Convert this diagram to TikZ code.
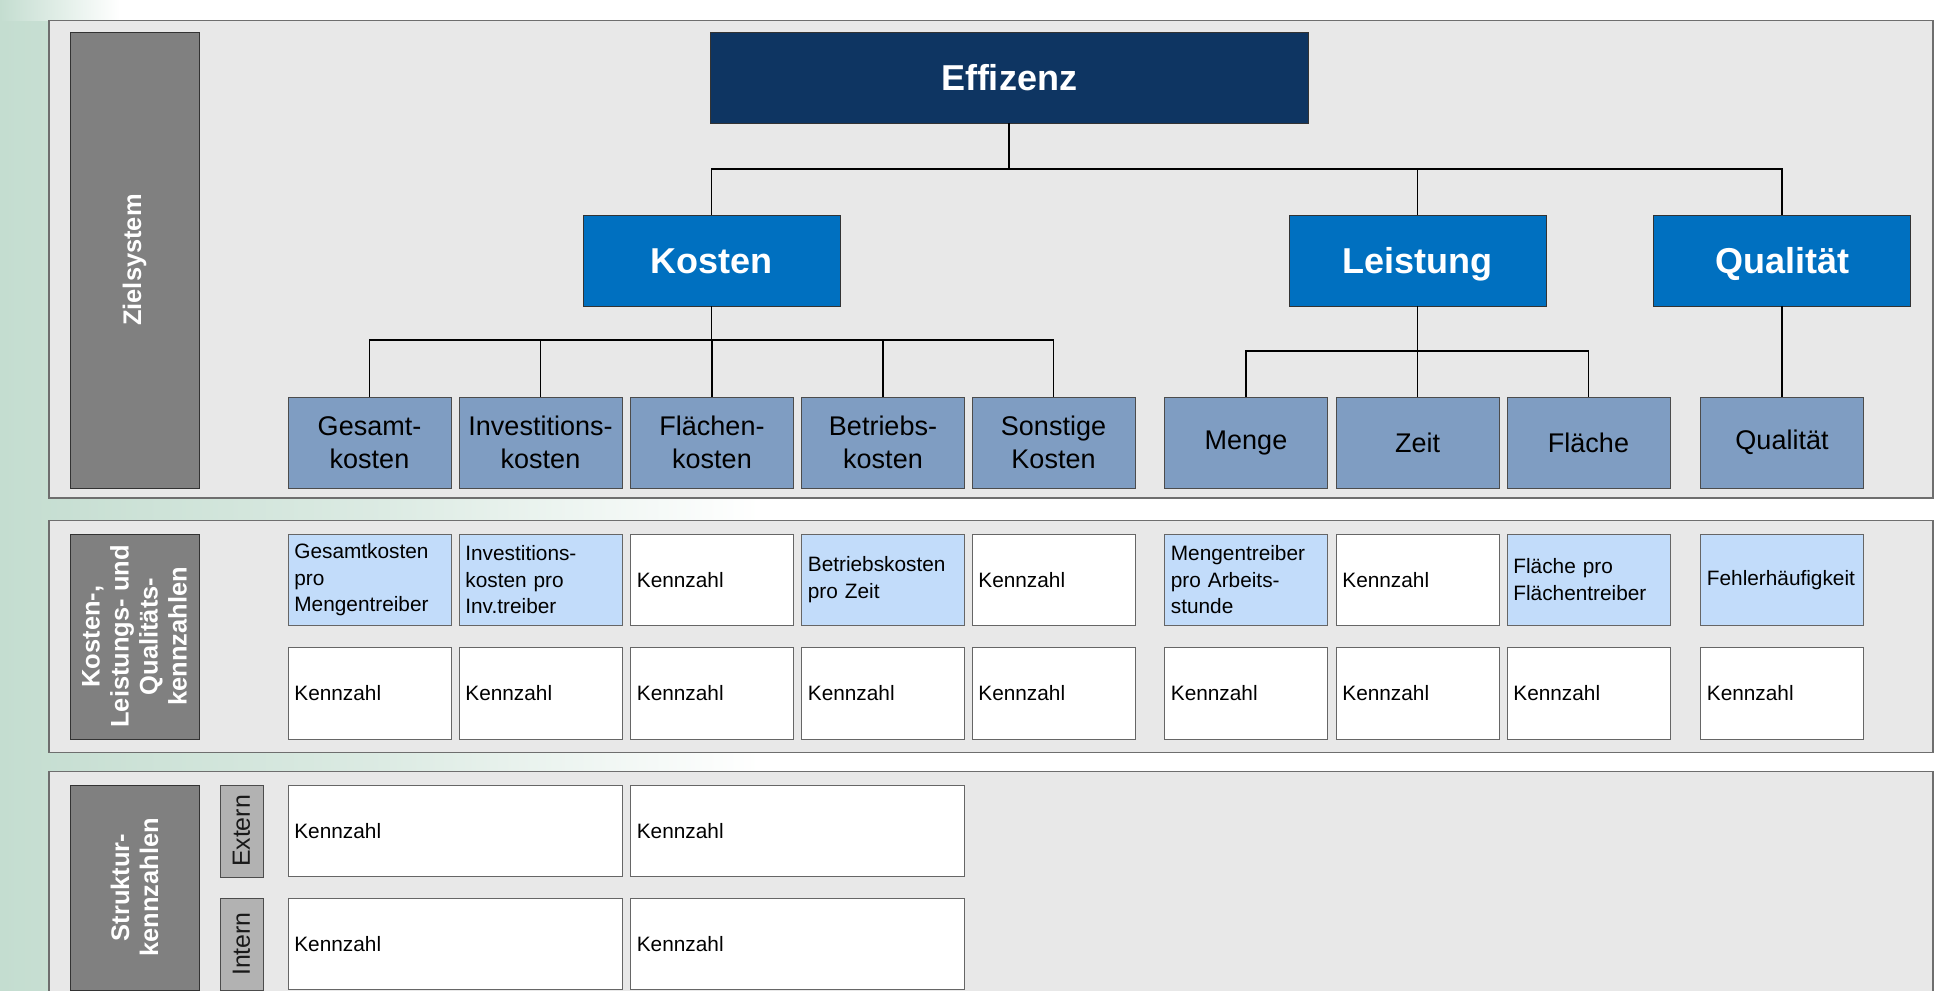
\documentclass[tikz,border=0pt]{standalone}
\usepackage{fontspec}
\setmainfont{Liberation Sans}
\usetikzlibrary{calc}

\definecolor{bggreen}{RGB}{196,221,208}
\definecolor{panelgray}{RGB}{232,232,232}
\definecolor{panelline}{RGB}{110,110,110}
\definecolor{labelgray}{RGB}{128,128,128}
\definecolor{navy}{RGB}{14,53,98}
\definecolor{midblue}{RGB}{0,112,192}
\definecolor{steel}{RGB}{127,157,194}
\definecolor{lightblue}{RGB}{194,220,250}
\definecolor{taggray}{RGB}{178,178,178}

\begin{document}
\begin{tikzpicture}[x=0.025cm,y=-0.025cm,
		panel/.style={draw=panelline,fill=panelgray,line width=1pt},
		sidelabel/.style={draw=black!80,fill=labelgray,text=white,rotate=90,align=center,inner sep=0pt,minimum height=3.225cm,font=\fontsize{18.1}{20.6}\selectfont\bfseries},
		topbox/.style={draw=black!80,fill=navy,text=white,text height=18.8pt,text depth=0pt,minimum width=14.95cm,minimum height=2.275cm,font=\fontsize{25.6}{30}\selectfont\bfseries},
		mainbox/.style={draw=black!80,fill=midblue,text=white,text height=18.8pt,text depth=0pt,minimum width=6.425cm,minimum height=2.275cm,font=\fontsize{25.6}{30}\selectfont\bfseries},
		subbox/.style={draw=black!70,fill=steel,align=center,inner sep=0pt,minimum width=4.075cm,minimum height=2.2875cm,font=\fontsize{19.2}{23.5}\selectfont},
		kzbox/.style={draw=black!60,fill=white,align=left,text width=3.755cm,inner xsep=0.16cm,inner ysep=0pt,minimum height=2.2875cm,font=\fontsize{14.8}{19}\selectfont},
		kzblue/.style={kzbox,fill=lightblue},
		widebox/.style={kzbox,text width=8.03cm},
		tagbox/.style={draw=black!70,fill=taggray,text=black!90,rotate=90,inner sep=0pt,minimum width=2.3cm,minimum height=1.075cm,font=\fontsize{17.7}{20}\selectfont},
		conn/.style={line width=1.2pt}]

		\clip (0,0) rectangle (1936,991);
		% background
		\fill[white] (0,0) rectangle (1936,991);
		\shade[left color=bggreen,right color=white,middle color=bggreen!60] (0,21) rectangle (760,991);
		\shade[left color=bggreen,right color=white] (0,0) rectangle (120,21);

		% three panels
		\draw[panel] (49,20.7) rectangle (1933,498);
		\draw[panel] (49,520.7) rectangle (1933,752.7);
		\draw[panel] (49,771.7) rectangle (1933,1010);

		\node[sidelabel,minimum width=11.39cm] (ziel) at (134.5,260) {Zielsystem};
		\node[sidelabel,minimum width=5.125cm] (klq) at (134.5,636.5) {Kosten-,\\Leistungs- und\\Qualitäts-\\kennzahlen};
		\node[sidelabel,minimum width=5.125cm] (struk) at (134.5,887.5) {Struktur-\\kennzahlen};

		% Zielsystem
		\node[topbox] (effizenz) at (1009,77.5) {Effizenz};
		\node[mainbox] (kosten) at (711.5,260.5) {Kosten};
		\node[mainbox] (leistung) at (1417.5,260.5) {Leistung};
		\node[mainbox] (qualitaet) at (1782,260.5) {Qualität};

		\foreach \x/\n/\t in {369.5/gesamt/{Gesamt-\\kosten},540.5/invest/{Investitions-\\kosten},712/flaechek/{Flächen-\\kosten},883/betrieb/{Betriebs-\\kosten},1053.5/sonst/{Sonstige\\Kosten},1246/menge/Menge,1417.5/zeit/Zeit,1588.5/flaeche/Fläche,1782/qualsub/Qualität}{
			\node[subbox] (\n) at (\x,442.75) {\t};
		}

		\coordinate (topbus) at (1009,169);
		\coordinate (kbus) at (711.5,340);
		\coordinate (lbus) at (1417.5,351);
		\draw[conn] (effizenz.south) -- (topbus);
		\draw[conn] (kosten.north) |- (topbus) -| (qualitaet.north);
		\draw[conn] (leistung.north) -- (leistung.north |- topbus);
		\draw[conn] (kosten.south) -- (kbus);
		\draw[conn] (gesamt.north) |- (kbus) -| (sonst.north);
		\foreach \n in {invest,flaechek,betrieb}{
			\draw[conn] (\n.north) -- (\n.north |- kbus);
		}
		\draw[conn] (leistung.south) -- (zeit.north);
		\draw[conn] (menge.north) |- (lbus) -| (flaeche.north);
		\draw[conn] (qualitaet.south) -- (qualsub.north);

		% Kennzahlen
		\foreach \x/\s/\t [count=\i] in {369.5/kzblue/{Gesamtkosten\\pro\\Mengentreiber},540.5/kzblue/{Investitions-\\kosten pro\\Inv.treiber},712/kzbox/Kennzahl,883/kzblue/{Betriebskosten\\pro Zeit},1053.5/kzbox/Kennzahl,1246/kzblue/{Mengentreiber\\pro Arbeits-\\stunde},1417.5/kzbox/Kennzahl,1588.5/kzblue/{Fläche pro\\Flächentreiber},1782/kzblue/Fehlerhäufigkeit}{
			\node[\s] (kza\i) at (\x,579.75) {\t};
		}
		\foreach \x [count=\i] in {369.5,540.5,712,883,1053.5,1246,1417.5,1588.5,1782}{
			\node[kzbox] (kzb\i) at (\x,693.5) {Kennzahl};
		}

		% Strukturkennzahlen
		\node[tagbox] (extern) at (241.5,831) {Extern};
		\node[tagbox] (intern) at (241.5,944) {Intern};
		\node[widebox] (ext1) at (455,830.8) {Kennzahl};
		\node[widebox] (ext2) at (797.5,830.8) {Kennzahl};
		\node[widebox] (int1) at (455,944) {Kennzahl};
		\node[widebox] (int2) at (797.5,944) {Kennzahl};
	\end{tikzpicture}
\end{document}
